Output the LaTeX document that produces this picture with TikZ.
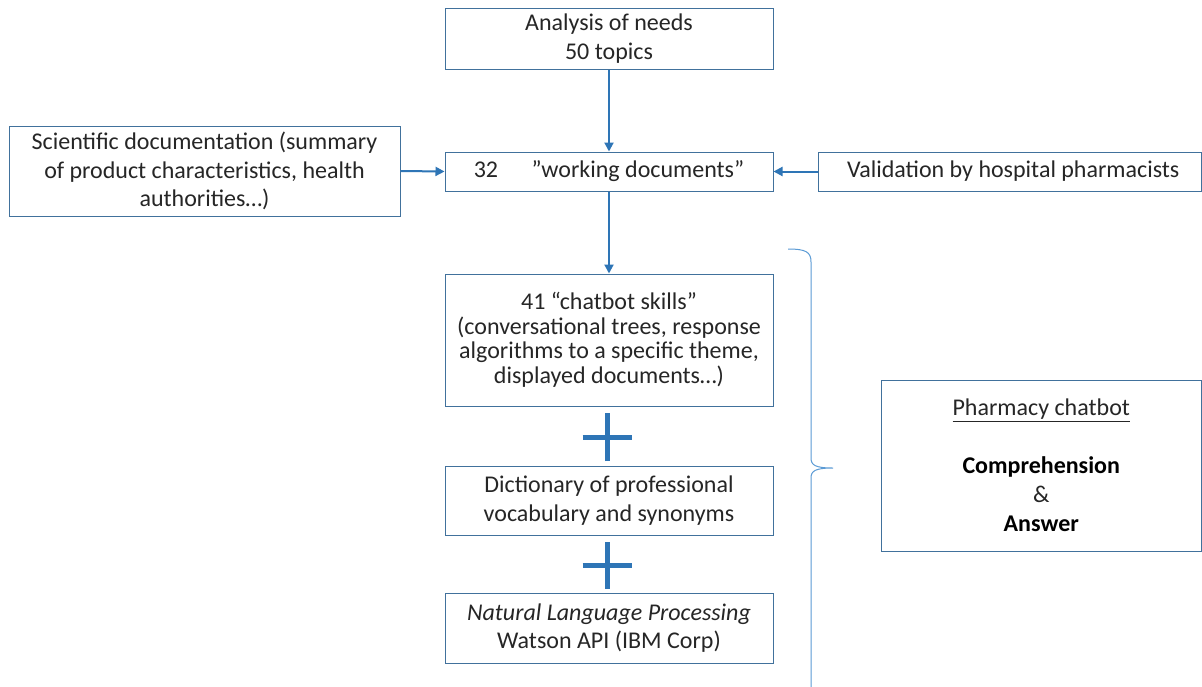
\documentclass[tikz,border=0pt]{standalone}
\usepackage{fontspec}
\setmainfont{Carlito}
\usetikzlibrary{arrows.meta}
\definecolor{boxc}{HTML}{41719C}
\definecolor{arrc}{HTML}{2E75B6}
\definecolor{bracec}{HTML}{5B9BD5}
\definecolor{txtc}{HTML}{262626}
\begin{document}
\begin{tikzpicture}[x=1pt,y=-1pt,
  box/.style={draw=boxc, line width=1pt, rectangle, align=center, inner sep=0pt,
    text=txtc, font=\fontsize{24}{28.5}\selectfont},
  conn/.style={draw=arrc, line width=2pt, -{Triangle[length=9pt,width=9pt]}},
  plus/.style={draw=arrc, line width=5pt},
  bracestyle/.style={draw=bracec, line width=1pt}
]
\useasboundingbox (0,0) rectangle (1202,686);
\fill[white] (0,0) rectangle (1202,686);

\node[box, minimum width=328pt, minimum height=61pt, font=\fontsize{24}{29}\selectfont] (needs) at (609,38.5) {Analysis of needs\\50 topics};
\node[box, minimum width=328pt, minimum height=39pt] (work) at (609,171.5) {32\hspace{1.4em}”working documents”};
\node[box, minimum width=391pt, minimum height=90pt] (sci) at (204.5,171) {Scientific documentation (summary\\of product characteristics, health\\authorities…)};
\node[box, minimum width=383.5pt, minimum height=39pt] (valid) at (1009.75,171.5) {\hspace*{7pt}Validation by hospital pharmacists};
\node[box, minimum width=328pt, minimum height=132pt, font=\fontsize{24}{24.5}\selectfont] (skills) at (609,340) {41 “chatbot skills”\\(conversational trees, response\\algorithms to a specific theme,\\displayed documents…)};
\node[box, minimum width=328pt, minimum height=69pt] (dict) at (609,500.5) {Dictionary of professional\\vocabulary and synonyms};
\node[box, minimum width=328pt, minimum height=70pt] (nlp) at (609,628) {\textit{Natural Language Processing}\\Watson API (IBM Corp)};
\node[box, minimum width=320.5pt, minimum height=171pt, font=\fontsize{24}{29}\selectfont] (bot) at (1041.25,465.5) {\underline{Pharmacy chatbot}\\[29pt]\textbf{\textcolor{black}{Comprehension}}\\\&\\\textbf{\textcolor{black}{Answer}}};

\draw[conn] (needs.south) -- (work.north);
\draw[conn] (work.south) -- (skills.north);
\draw[conn] (sci.east) -- (work.west);
\draw[conn] (valid.west) -- (work.east);

\coordinate (p1) at (607,437);
\coordinate (p2) at (607,565);
\draw[plus] ([yshift=-24pt]p1) -- ([yshift=24pt]p1) ([xshift=-24.5pt]p1) -- ([xshift=24.5pt]p1);
\draw[plus] ([yshift=-23.5pt]p2) -- ([yshift=23.5pt]p2) ([xshift=-24.5pt]p2) -- ([xshift=24.5pt]p2);

\coordinate (btop) at (788,249);
\coordinate (btip) at (833,468);
\coordinate (bbot) at (811,700);
\draw[bracestyle] (btop) .. controls (806,249) and (811,252) .. (811,262) -- (811,458)
  .. controls (811,465) and (815,468) .. (btip)
  .. controls (815,468) and (811,471) .. (811,478) -- (bbot);
\end{tikzpicture}
\end{document}
